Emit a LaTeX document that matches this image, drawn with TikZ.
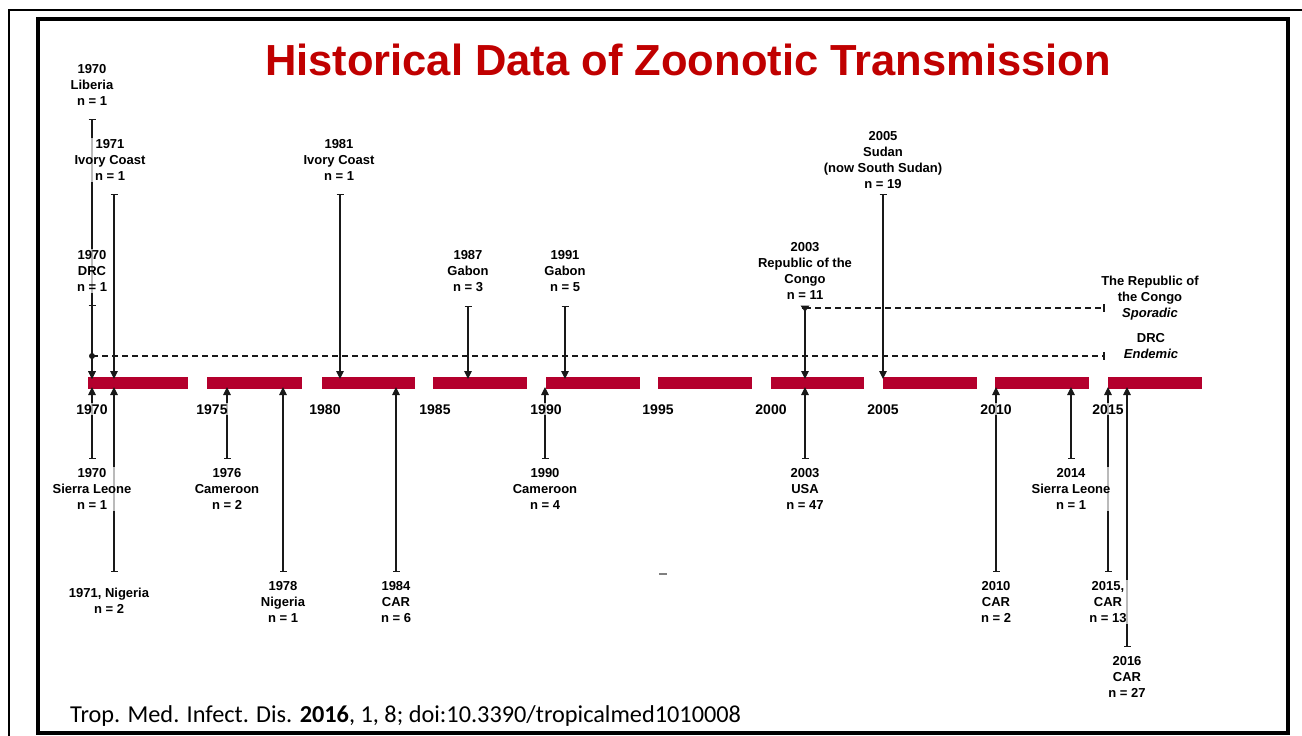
\documentclass[tikz,border=0pt]{standalone}
\usepackage{fontspec}
\setmainfont{Liberation Sans}
\newfontfamily\calibri{Carlito}
\usetikzlibrary{arrows.meta,calc}
\definecolor{titlered}{RGB}{192,0,0}
\definecolor{barred}{RGB}{180,0,45}
\definecolor{linegray}{RGB}{25,25,25}
\tikzset{
  lbl/.style={font=\fontsize{13}{16}\selectfont\bfseries, align=center, fill=white, fill opacity=0.7, text opacity=1, inner sep=1pt},
  lblit/.style={font=\fontsize{13}{16}\selectfont\bfseries, align=center, inner sep=1pt},
  yr/.style={font=\fontsize{14}{16}\selectfont\bfseries, anchor=base, fill=white, fill opacity=0.7, text opacity=1, inner sep=1pt},
  evt/.style={draw=linegray, line width=1.2pt, {Bar[width=7pt,line width=1.2pt]}-{Triangle[length=8pt,width=7.5pt]}},
  dashline/.style={draw=linegray, line width=1.2pt, dash pattern=on 6pt off 4pt},
  tlbar/.style={fill=barred},
}
\begin{document}
\begin{tikzpicture}[x=1pt,y=-1pt]
\useasboundingbox (0,0) rectangle (1302,736);
% frames
\draw[line width=2pt] (9,736) -- (9,10) -- (1302,10);
\draw[line width=3.5pt] (38,19) rectangle (1288,733);
% title
\node[font=\fontsize{43.5}{50}\selectfont\bfseries, text=titlered, anchor=base, inner sep=0] (title) at (688,75) {Historical Data of Zoonotic Transmission};
% timeline bars
\foreach \a/\b [count=\i] in {88/188,207/302,322/415,433/527,546/640,658/752,771/864,883/977,995/1089,1108/1202}{
  \fill[tlbar] (\a,377) rectangle (\b,389);
}
% dashed range lines
\coordinate (drcs) at (92,356);
\coordinate (drce) at (1104,356);
\coordinate (rocs) at (805,308);
\coordinate (roce) at (1104,308);
\draw[dashline] (drcs) -- (drce);
\draw[draw=linegray, line width=1.2pt] ($(drce)+(0,-4)$) -- ($(drce)+(0,4)$);
\draw[dashline] (rocs) -- (roce);
\draw[draw=linegray, line width=1.2pt] ($(roce)+(0,-4)$) -- ($(roce)+(0,4)$);
\fill[linegray] (drcs) circle (3pt);
\fill[linegray] (800.5,305.5) -- (809.5,305.5) -- (805,312) -- cycle;
% top events (arrow down to bar)
\foreach \n/\x/\y in {lib/92/119, ic71/114/194, ic81/340/194, drc/92/305, gab87/468/306, gab91/565/306, roc/805/308, sud/883/194}{
  \coordinate (\n-t) at (\x,\y);
  \coordinate (\n-h) at (\x,379);
  \draw[evt] (\n-t) -- (\n-h);
}
% bottom events (arrow up to bar)
\foreach \n/\x/\y in {sl70/92/459, nig71/114/572, cam76/227/459, nig78/283/572, car84/396/572, cam90/545/459, usa/805/459, car10/996/572, sl14/1071/459, car15/1108/572, car16/1127/647}{
  \coordinate (\n-t) at (\x,\y);
  \coordinate (\n-h) at (\x,387);
  \draw[evt] (\n-t) -- (\n-h);
}
% stray mark
\draw[gray, line width=1.5pt] (659,574) -- (667,574);
% year labels
\foreach \x/\t in {92/1970,212/1975,325/1980,435/1985,546/1990,658/1995,771/2000,883/2005,996/2010,1108/2015}{
  \node[yr] (y\t) at (\x,414) {\t};
}
% event labels
\node[lbl] (Llib) at (92,85) {1970\\Liberia\\n = 1};
\node[lbl] (Lic71) at (110,160) {1971\\Ivory Coast\\n = 1};
\node[lbl] (Lic81) at (339,160) {1981\\Ivory Coast\\n = 1};
\node[lbl] (Ldrc) at (92,271) {1970\\DRC\\n = 1};
\node[lbl] (Lgab87) at (468,271) {1987\\Gabon\\n = 3};
\node[lbl] (Lgab91) at (565,271) {1991\\Gabon\\n = 5};
\node[lbl] (Lroc) at (805,271) {2003\\Republic of the\\Congo\\n = 11};
\node[lbl] (Lsud) at (883,160) {2005\\Sudan\\(now South Sudan)\\n = 19};
\node[lblit] (Lspor) at (1150,298) {The Republic of\\the Congo\\\textit{Sporadic}};
\node[lblit] (Lend) at (1151,346) {DRC\\\textit{Endemic}};
\node[lbl] (Lsl70) at (92,489) {1970\\Sierra Leone\\n = 1};
\node[lbl] (Lnig71) at (109,601) {1971, Nigeria\\n = 2};
\node[lbl] (Lcam76) at (227,489) {1976\\Cameroon\\n = 2};
\node[lbl] (Lnig78) at (283,602) {1978\\Nigeria\\n = 1};
\node[lbl] (Lcar84) at (396,602) {1984\\CAR\\n = 6};
\node[lbl] (Lcam90) at (545,489) {1990\\Cameroon\\n = 4};
\node[lbl] (Lusa) at (805,489) {2003\\USA\\n = 47};
\node[lbl] (Lcar10) at (996,602) {2010\\CAR\\n = 2};
\node[lbl] (Lsl14) at (1071,489) {2014\\Sierra Leone\\n = 1};
\node[lbl] (Lcar15) at (1108,602) {2015,\\CAR\\n = 13};
\node[lbl] (Lcar16) at (1127,677) {2016\\CAR\\n = 27};
% citation
\node[font=\calibri\fontsize{24.3}{28}\selectfont, anchor=base west, inner sep=0] (cite) at (70,722) {Trop. Med. Infect. Dis. \textbf{2016}, 1, 8; doi:10.3390/tropicalmed1010008};
\end{tikzpicture}
\end{document}
